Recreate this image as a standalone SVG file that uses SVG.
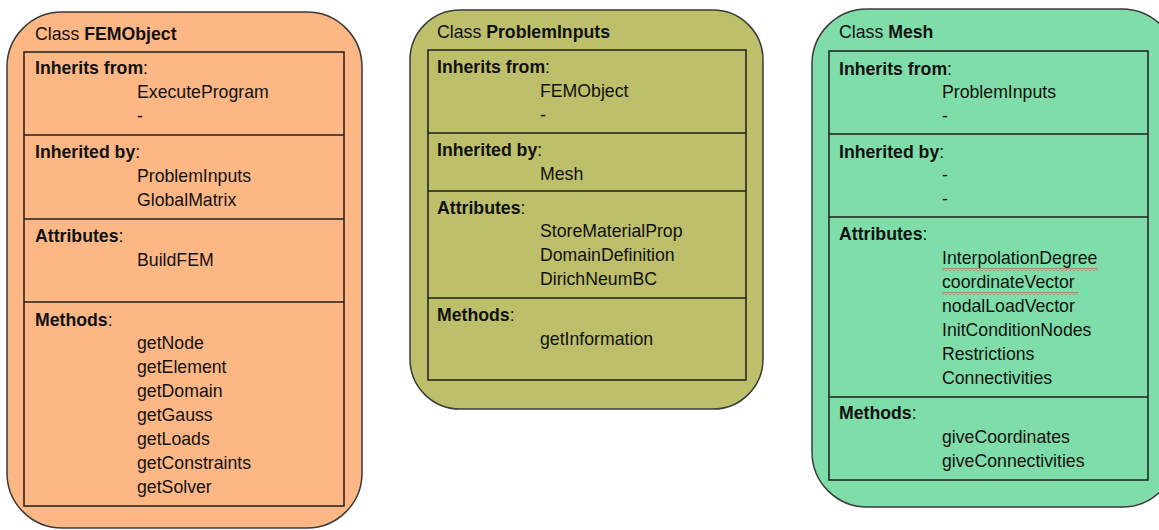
<svg xmlns="http://www.w3.org/2000/svg" width="1159" height="530" viewBox="0 0 1159 530">
<style>
  text { font-family: "Liberation Sans", Arial, sans-serif; font-size: 17.7px; fill: #111; }
  .b { font-weight: bold; }
  .outer { stroke: #3a3a3a; stroke-width: 1.5; }
  .inner { fill: none; stroke: #1e1e1e; stroke-width: 1.5; }
  .div { stroke: #1e1e1e; stroke-width: 1.5; }
</style>
<defs>
  <pattern id="squig" x="0" y="0" width="4" height="3" patternUnits="userSpaceOnUse">
    <path d="M0 2.5 L2 0.5 L4 2.5" fill="none" stroke="#e03030" stroke-width="0.9"/>
  </pattern>
</defs>
<rect width="1159" height="530" fill="#ffffff"/>

<g id="FEMObject">
  <rect class="outer" x="7" y="12" width="355" height="516" rx="55" ry="55" fill="#FDB785"/>
  <rect class="inner" x="24" y="52" width="320" height="454"/>
  <line class="div" x1="24" y1="135" x2="344" y2="135"/>
  <line class="div" x1="24" y1="219" x2="344" y2="219"/>
  <line class="div" x1="24" y1="302" x2="344" y2="302"/>
  <text x="35" y="40">Class <tspan class="b">FEMObject</tspan></text>
  <text x="35" y="74"><tspan class="b">Inherits from</tspan>:</text>
  <text x="137" y="98">ExecuteProgram</text>
  <text x="137" y="122">-</text>
  <text x="35" y="158"><tspan class="b">Inherited by</tspan>:</text>
  <text x="137" y="182">ProblemInputs</text>
  <text x="137" y="206">GlobalMatrix</text>
  <text x="35" y="242"><tspan class="b">Attributes</tspan>:</text>
  <text x="137" y="266">BuildFEM</text>
  <text x="35" y="326"><tspan class="b">Methods</tspan>:</text>
  <text x="137" y="349">getNode</text>
  <text x="137" y="373">getElement</text>
  <text x="137" y="397">getDomain</text>
  <text x="137" y="421">getGauss</text>
  <text x="137" y="445">getLoads</text>
  <text x="137" y="469">getConstraints</text>
  <text x="137" y="493">getSolver</text>
</g>

<g id="ProblemInputs">
  <rect class="outer" x="410" y="10" width="353" height="399" rx="50" ry="50" fill="#BDBF6A"/>
  <rect class="inner" x="428" y="50" width="318" height="330"/>
  <line class="div" x1="428" y1="133" x2="746" y2="133"/>
  <line class="div" x1="428" y1="191" x2="746" y2="191"/>
  <line class="div" x1="428" y1="298" x2="746" y2="298"/>
  <text x="437" y="38">Class <tspan class="b">ProblemInputs</tspan></text>
  <text x="437" y="73"><tspan class="b">Inherits from</tspan>:</text>
  <text x="540" y="97">FEMObject</text>
  <text x="540" y="121">-</text>
  <text x="437" y="156"><tspan class="b">Inherited by</tspan>:</text>
  <text x="540" y="180">Mesh</text>
  <text x="437" y="214"><tspan class="b">Attributes</tspan>:</text>
  <text x="540" y="237">StoreMaterialProp</text>
  <text x="540" y="261">DomainDefinition</text>
  <text x="540" y="285">DirichNeumBC</text>
  <text x="437" y="321"><tspan class="b">Methods</tspan>:</text>
  <text x="540" y="345">getInformation</text>
</g>

<g id="Mesh">
  <rect class="outer" x="812" y="9" width="365" height="498" rx="55" ry="55" fill="#7EDDA8"/>
  <rect class="inner" x="829" y="51" width="319" height="429"/>
  <line class="div" x1="829" y1="134" x2="1148" y2="134"/>
  <line class="div" x1="829" y1="217" x2="1148" y2="217"/>
  <line class="div" x1="829" y1="397" x2="1148" y2="397"/>
  <text x="839" y="38">Class <tspan class="b">Mesh</tspan></text>
  <text x="839" y="75"><tspan class="b">Inherits from</tspan>:</text>
  <text x="942" y="98">ProblemInputs</text>
  <text x="942" y="122">-</text>
  <text x="839" y="158"><tspan class="b">Inherited by</tspan>:</text>
  <text x="942" y="181">-</text>
  <text x="942" y="205">-</text>
  <text x="839" y="240"><tspan class="b">Attributes</tspan>:</text>
  <text x="942" y="264">InterpolationDegree</text>
  <text x="942" y="288">coordinateVector</text>
  <text x="942" y="312">nodalLoadVector</text>
  <text x="942" y="336">InitConditionNodes</text>
  <text x="942" y="360">Restrictions</text>
  <text x="942" y="384">Connectivities</text>
  <text x="839" y="419"><tspan class="b">Methods</tspan>:</text>
  <text x="942" y="443">giveCoordinates</text>
  <text x="942" y="467">giveConnectivities</text>
  <rect x="942" y="268" width="156" height="3" fill="url(#squig)"/>
  <rect x="942" y="292" width="136" height="3" fill="url(#squig)"/>
</g>

<g id="connectors"></g>
</svg>
